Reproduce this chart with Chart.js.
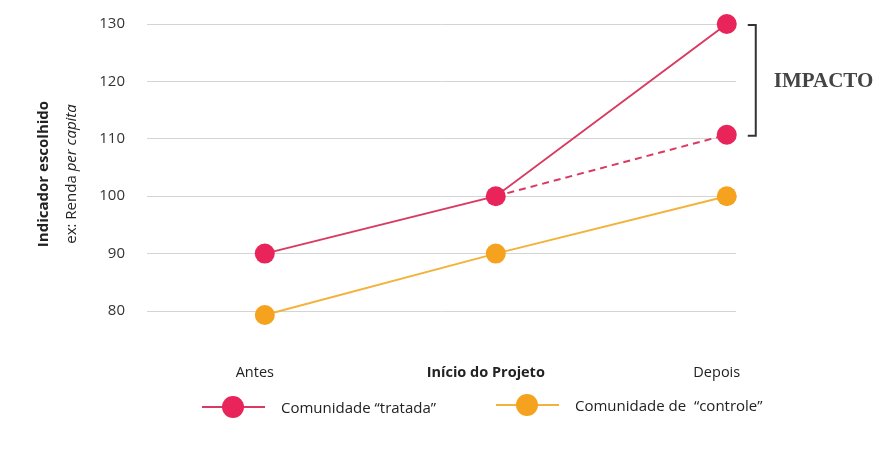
<!DOCTYPE html>
<html>
<head>
<meta charset="utf-8">
<script src="https://cdn.jsdelivr.net/npm/chart.js@4.4.1/dist/chart.umd.min.js"></script>
<style>
  html, body { margin: 0; padding: 0; background: #fff; }
  #wrap { position: relative; width: 893px; height: 457px; font-family: "Open Sans", sans-serif; color: #222; }
  canvas { position: absolute; left: 0; top: 0; }
  .ytitle { position: absolute; white-space: nowrap; font-size: 15px; transform: translate(-50%, -50%) rotate(-90deg); line-height: 1; }
  .legend { position: absolute; top: 396px; display: flex; align-items: center; font-size: 15px; color: #222; white-space: pre; }
  .sw { position: relative; width: 63px; height: 22px; margin-right: 16px; }
  .sw .ln { position: absolute; left: 0; right: 0; top: 10px; height: 2px; }
  .sw .dt { position: absolute; left: 20px; top: 0; width: 22px; height: 22px; border-radius: 50%; }
</style>
</head>
<body>
<div id="wrap">
  <canvas id="c" width="893" height="457"></canvas>
  <div class="ytitle" style="left:42px; top:174px; font-weight:700;">Indicador escolhido</div>
  <div class="ytitle" style="left:70px; top:174px;">ex: Renda <i>per capita</i></div>
  <div class="legend" style="left:202px;"><div class="sw"><div class="ln" style="background:#d93a62"></div><div class="dt" style="background:#e8245a"></div></div>Comunidade “tratada”</div>
  <div class="legend" style="left:496px; top:394px;"><div class="sw"><div class="ln" style="background:#f2b23c"></div><div class="dt" style="background:#f5a31f"></div></div>Comunidade de  “controle”</div>
</div>
<script>
const categories = ['Antes', 'Início do Projeto', 'Depois'];
const tratada = [90, 100, 130];
const controle = [79.3, 90, 100];
const contrafactual = [null, 100, 110.7];
const yTicks = [80, 90, 100, 110, 120, 130];
const impactLabel = 'IMPACTO';

const RED = '#e8245a', RED_LINE = '#d93a62', ORANGE = '#f5a31f', ORANGE_LINE = '#f2b23c';
const toXY = arr => arr.map((v, i) => ({ x: i, y: v }));

const impactPlugin = {
  id: 'impact',
  afterDraw(chart) {
    const { ctx, scales } = chart;
    const last = categories.length - 1;
    const yTop = scales.y.getPixelForValue(tratada[last]);
    const yBot = scales.y.getPixelForValue(contrafactual[last]);
    const xPt = scales.x.getPixelForValue(last);
    const xb = xPt + 29;
    ctx.save();
    ctx.strokeStyle = '#333';
    ctx.lineWidth = 2;
    ctx.beginPath();
    ctx.moveTo(xb - 8, yTop + 1);
    ctx.lineTo(xb, yTop + 1);
    ctx.lineTo(xb, yBot + 1);
    ctx.lineTo(xb - 8, yBot + 1);
    ctx.stroke();
    ctx.fillStyle = '#444';
    ctx.font = 'bold 21px "Liberation Serif", "DejaVu Serif", serif';
    ctx.textBaseline = 'middle';
    ctx.textAlign = 'left';
    ctx.fillText(impactLabel, xb + 18, (yTop + yBot) / 2 + 2);
    ctx.restore();
  }
};

new Chart(document.getElementById('c'), {
  type: 'line',
  data: {
    datasets: [
      {
        label: 'Contrafactual',
        data: toXY(contrafactual),
        borderColor: RED_LINE,
        borderWidth: 2,
        borderDash: [7, 5],
        pointRadius: [0, 0, 10],
        pointBackgroundColor: RED,
        pointBorderWidth: 0,
        clip: false,
        order: 3
      },
      {
        label: 'Comunidade “tratada”',
        data: toXY(tratada),
        borderColor: RED_LINE,
        borderWidth: 2,
        pointRadius: 10,
        pointBackgroundColor: RED,
        pointBorderWidth: 0,
        clip: false,
        order: 1
      },
      {
        label: 'Comunidade de “controle”',
        data: toXY(controle),
        borderColor: ORANGE_LINE,
        borderWidth: 2,
        pointRadius: 10,
        pointBackgroundColor: ORANGE,
        pointBorderWidth: 0,
        clip: false,
        order: 2
      }
    ]
  },
  options: {
    responsive: false,
    animation: false,
    layout: { padding: { top: 24, right: 157, left: 0, bottom: 0 } },
    plugins: { legend: { display: false }, tooltip: { enabled: false } },
    scales: {
      x: {
        type: 'linear',
        min: -0.51,
        max: categories.length - 1 + 0.04,
        afterBuildTicks: axis => { axis.ticks = categories.map((c, i) => ({ value: i })); },
        afterFit: axis => { axis.height = 146; axis.paddingLeft = 0; axis.paddingRight = 0; },
        grid: { display: false, drawTicks: false },
        border: { display: false },
        ticks: {
          padding: 53,
          labelOffset: -10,
          maxRotation: 0,
          color: '#222',
          callback: v => categories[v],
          font: ctx => ({ family: '"Open Sans", sans-serif', size: 14.5, weight: ctx.index === 1 ? 'bold' : 'normal' })
        }
      },
      y: {
        min: yTicks[0],
        max: yTicks[yTicks.length - 1],
        afterBuildTicks: axis => { axis.ticks = yTicks.map(v => ({ value: v })); },
        afterFit: axis => { axis.width = 147; axis.paddingTop = 0; axis.paddingBottom = 0; },
        grid: { color: '#d4d4d4', lineWidth: 1, drawTicks: false },
        border: { display: false },
        ticks: {
          padding: 22,
          color: '#333',
          font: { family: '"Open Sans", sans-serif', size: 15 }
        }
      }
    }
  },
  plugins: [impactPlugin]
});
</script>
</body>
</html>
